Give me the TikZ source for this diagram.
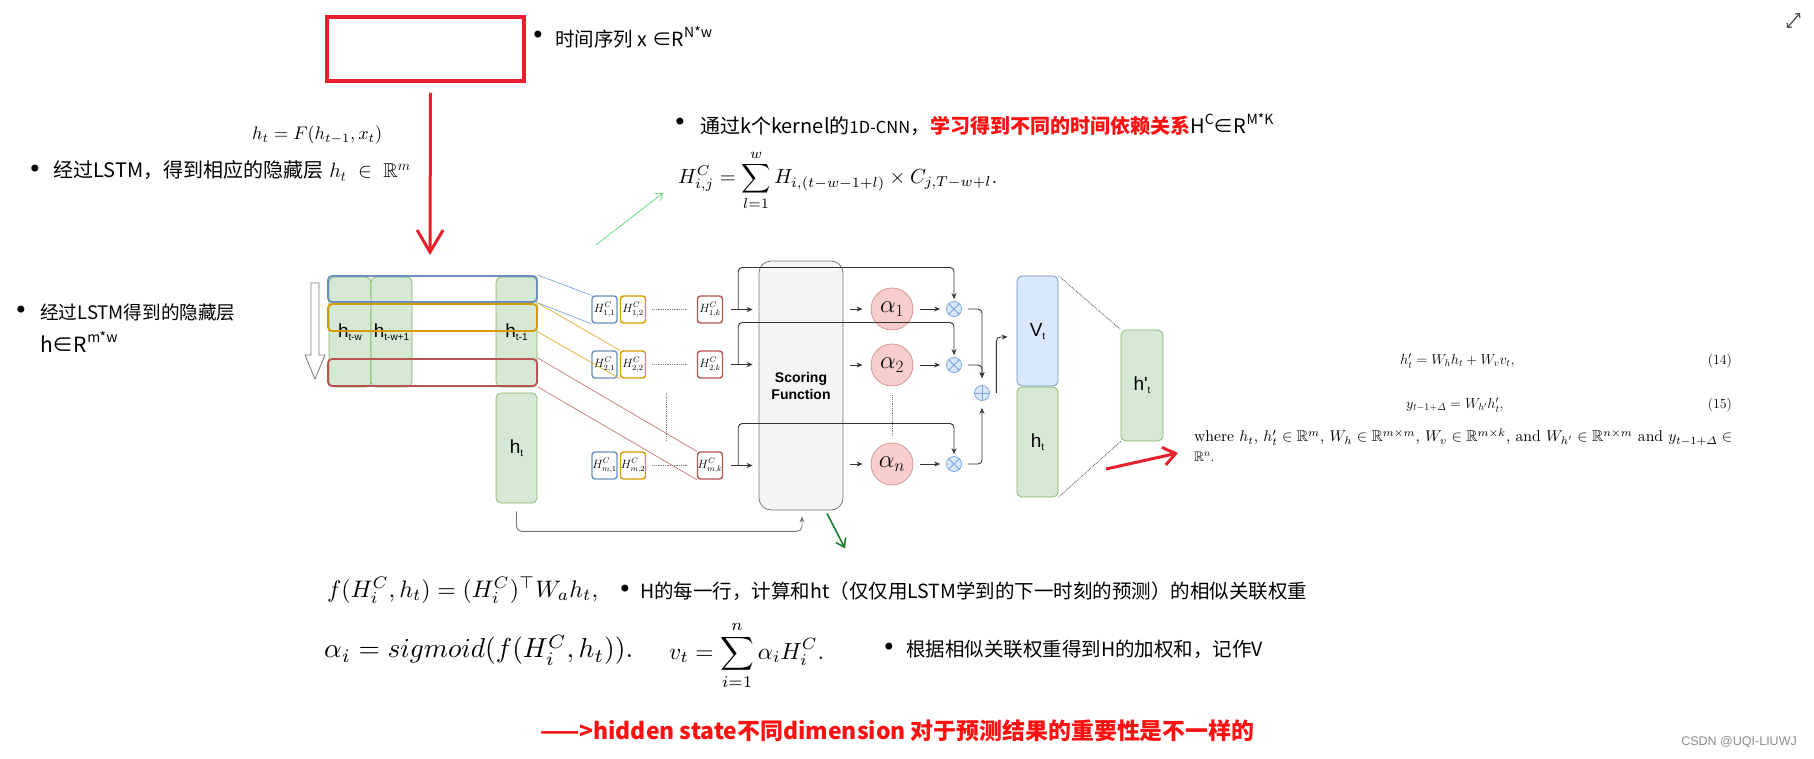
\documentclass[tikz,border=0pt]{standalone}
\usepackage{amsmath,amssymb}
\usepackage[no-math]{fontspec}
\usepackage{graphicx}
\usetikzlibrary{arrows.meta,calc}
\newfontfamily\arial{Liberation Sans}
\newfontfamily\cjk{Noto Sans CJK SC}
\newfontfamily\dvs{DejaVu Sans}
\definecolor{redA}{HTML}{E8202B}
\definecolor{txtRed}{HTML}{FF1010}
\definecolor{bluD}{HTML}{6C8EBF}
\definecolor{bluF}{HTML}{DAE8FC}
\definecolor{bluL}{HTML}{7EA6E0}
\definecolor{grnD}{HTML}{82B366}
\definecolor{grnF}{HTML}{D5E8D4}
\definecolor{orgD}{HTML}{D79B00}
\definecolor{redD}{HTML}{B85450}
\definecolor{redF}{HTML}{F8CECC}
\definecolor{gryF}{HTML}{F5F5F5}
\definecolor{gryD}{HTML}{777777}
\definecolor{grnArrow}{HTML}{1E7B34}
\definecolor{grnLight}{HTML}{66DD88}
\newcommand{\supx}[1]{\raisebox{0.45em}{\fontsize{14}{14}\selectfont #1}}
\newcommand{\lbl}[2]{{\arial\fontsize{19}{19}\selectfont #1\raisebox{-3pt}{\fontsize{10}{10}\selectfont #2}}}
\begin{document}
\begin{tikzpicture}[x=1pt,y=-1pt,
 cjkt/.style={anchor=west, inner sep=0pt, font=\cjk\fontsize{19.5}{24}\selectfont},
 bul/.style={inner sep=0pt, font=\dvs\fontsize{24}{24}\selectfont},
 gcol/.style={draw=grnD, fill=grnF, rounded corners=5pt, minimum width=41pt, minimum height=110pt, inner sep=0pt, line width=0.7pt},
 rowbox/.style={draw=#1, line width=1.8pt, rounded corners=4pt, minimum width=209pt, minimum height=26pt, inner sep=0pt},
 hcb/.style={draw=#1, fill=white, line width=1.4pt, rounded corners=3pt, minimum width=25pt, minimum height=27pt, inner sep=0pt, font=\fontsize{12}{12}\selectfont},
 alph/.style={circle, minimum size=42pt, inner sep=0pt, fill=redF, draw=redD!60, line width=0.8pt, font=\fontsize{23}{23}\selectfont},
 opc/.style={circle, minimum size=15pt, inner sep=0pt, fill=bluF, draw=bluL, line width=0.8pt},
 arr/.style={draw=black!80, line width=0.9pt, -{Stealth[length=6pt,width=5pt]}},
 dotl/.style={draw=gray, densely dotted, line width=0.8pt},
 mathw/.style={anchor=west, inner sep=0pt},
 paper/.style={font=\fontsize{13.8}{16}\selectfont},
]
\useasboundingbox (0,0) rectangle (1814,758);
\fill[white] (0,0) rectangle (1814,758);

% ---------- top annotations ----------
\node[draw=redA, line width=3.5pt, minimum width=197pt, minimum height=64pt, inner sep=0pt] (xbox) at (425.5,49) {};
\node[bul] (d1) at (538,37) {•};
\node[cjkt] (b1) at (555,37) {时间序列 x\hspace{5pt}∈R\supx{N*w}};
\coordinate (rtip) at (430,255);
\draw[redA, line width=3pt, -{Straight Barb[length=22pt,width=26pt]}] ([xshift=5pt,yshift=-10pt]xbox.south) -- (rtip);

\node[mathw] (hF) at (252,135) {\resizebox{130pt}{!}{$h_t = F(h_{t-1}, x_t)$}};
\node[bul] (d2) at (35,171) {•};
\node[cjkt, font=\cjk\fontsize{20}{24}\selectfont] (b2) at (53,171) {经过LSTM，得到相应的隐藏层\hspace{6pt}$h_t\;\in\;\mathbb{R}^m$};

\node[bul] (d3) at (680,124) {•};
\node[cjkt, font=\cjk\fontsize{20}{24}\selectfont] (b3) at (700,124) {通过k个kernel的{\fontsize{16.5}{16}\selectfont 1D-CNN}，{\bfseries\color{txtRed}学习得到不同的时间依赖关系}H\supx{C}∈R\supx{M*K}};
\node[mathw] (fHC) at (678,180) {\resizebox{319pt}{!}{$\displaystyle H^C_{i,j} = \sum_{l=1}^{w} H_{i,(t-w-1+l)} \times C_{j,T-w+l}.$}};
\coordinate (ga0) at (596,245);
\draw[grnLight, line width=0.8pt, -{Straight Barb[length=6pt,width=9pt]}] (ga0) -- ([xshift=-15pt,yshift=-13pt]fHC.west);

\node[bul] (d4) at (21,312) {•};
\node[cjkt, font=\cjk\fontsize{18.6}{24}\selectfont] (b4) at (40,312) {经过LSTM得到的隐藏层};
\node[cjkt, font=\cjk\fontsize{21}{24}\selectfont] (b4b) at (40,342) {h∈R\supx{m*w}};

% ---------- diagram ----------
\draw[gryD, fill=white, line width=0.8pt] (311,283) -- (319,283) -- (319,355) -- (325,355) -- (315,379) -- (305,355) -- (311,355) -- cycle;

\node[gcol, minimum width=42pt] (c1) at (350,332) {\lbl{h}{t-w}};
\node[gcol] (c2) at (391.5,332) {\lbl{h}{t-w+1}};
\node[gcol] (c3) at (516.5,332) {\lbl{h}{t-1}};
\node[gcol] (htL) at (516.5,448) {\lbl{h}{t}};

\node[rowbox=bluD] (rb) at (432.5,289) {};
\node[rowbox=orgD, minimum height=27pt] (ro) at (432.5,317.5) {};
\node[rowbox=redD, minimum height=27pt] (rr) at (432.5,372.5) {};

% H^C boxes
\node[hcb=bluD] (ha1) at (604.5,309.5) {$H^C_{1,1}$};
\node[hcb=orgD] (hb1) at (633,309.5) {$H^C_{1,2}$};
\node[hcb=redD] (hk1) at (710,309.5) {$H^C_{1,k}$};
\node[hcb=bluD] (ha2) at (604.5,364.5) {$H^C_{2,1}$};
\node[hcb=orgD] (hb2) at (633,364.5) {$H^C_{2,2}$};
\node[hcb=redD] (hk2) at (710,364.5) {$H^C_{2,k}$};
\node[hcb=bluD] (ha3) at (604.5,465.5) {$H^C_{m,1}$};
\node[hcb=orgD] (hb3) at (633,465.5) {$H^C_{m,2}$};
\node[hcb=redD] (hk3) at (710,465.5) {$H^C_{m,k}$};
\foreach \r in {1,2,3} {
  \draw[dotl] ($(hb\r.east)+(6,0)$) -- ($(hk\r.west)+(-9,0)$);
}
\draw[dotl] (666,393) -- (666,441);

\draw[bluL, line width=0.7pt] (rb.north east) -- (ha1.north west) (rb.south east) -- (ha1.south west);
\draw[orgD!80, line width=0.7pt] (ro.north east) -- (hb2.north west) (ro.south east) -- (hb2.south west);
\draw[redD!80, line width=0.7pt] (rr.north east) -- (hk3.north west) (rr.south east) -- (hk3.south west);

% scoring function
\node[draw=gryD, fill=gryF, rounded corners=12pt, minimum width=84pt, minimum height=249pt, inner sep=0pt, line width=0.8pt, align=center, font=\arial\bfseries\fontsize{14}{17}\selectfont] (sf) at (801,385.5) {Scoring\\Function};

% alphas and operators
\node[alph] (a1) at (892,309) {$\alpha_1$};
\node[alph] (a2) at (892,365) {$\alpha_2$};
\node[alph] (a3) at (892,464) {$\alpha_n$};
\node[opc] (m1) at (954,309) {};
\node[opc] (m2) at (954,365) {};
\node[opc] (m3) at (954,464) {};
\foreach \r in {1,2,3} {
  \draw[bluL, line width=0.8pt] (m\r.north east) -- (m\r.south west) (m\r.north west) -- (m\r.south east);
}
\node[opc] (pl) at (982,393) {};
\draw[bluL, line width=0.8pt] (pl.north) -- (pl.south) (pl.west) -- (pl.east);
\draw[dotl] ($(a2.south)+(0,9)$) -- ($(a3.north)+(0,-7)$);

\foreach \r in {1,2,3} {
  \draw[arr] ($(hk\r.east)+(8,0)$) -- ($(sf.west |- hk\r.east)+(-6,0)$);
  \draw[arr, rounded corners=4pt, shorten >=2pt] ($(hk\r.east)+(15,0)$) -- ($(hk\r.east)+(15,-42)$) -| (m\r.north);
  \draw[arr] ($(sf.east |- a\r.west)+(7,0)$) -- ($(a\r.west)+(-8,0)$);
  \draw[arr] ($(a\r.east)+(7,0)$) -- ($(m\r.west)+(-6,0)$);
}
\draw[arr, rounded corners=4pt, shorten >=7pt] ($(m1.east)+(6,0)$) -| (pl.north);
\draw[arr, rounded corners=4pt, shorten >=7pt] ($(m2.east)+(6,0)$) -| (pl.north);
\draw[arr, rounded corners=4pt, shorten >=7pt] ($(m3.east)+(6,0)$) -| (pl.south);

% Vt / ht / h't
\node[gcol, draw=bluD, fill=bluF] (Vt) at (1037.5,331) {\lbl{V}{t}};
\node[gcol] (htR) at (1037.5,442) {\lbl{h}{t}};
\node[gcol, minimum width=42pt, minimum height=111pt] (hp) at (1142,385.5) {\lbl{h\textquotesingle}{t}};
\draw[arr, rounded corners=4pt] ($(pl.east)+(6.5,0)$) |- ($(Vt.west)+(-9,6)$);
\draw[dotl, draw=black!70] (Vt.north east) -- (hp.north west);
\draw[dotl, draw=black!70] (htR.south east) -- (hp.south west);

% bottom connector
\draw[gryD, line width=0.9pt, rounded corners=5pt, -{Stealth[length=6pt,width=5pt]}] ($(htL.south)+(0,8)$) -- ($(htL.south)+(0,28)$) -| ($(sf.south)+(1,6)$);
\draw[grnArrow, line width=1.6pt, -{Straight Barb[length=8pt,width=11pt]}] ($(sf.south)+(26,3)$) -- ($(sf.south)+(44,38)$);

% red arrow to paper text
\coordinate (ra0) at (1106,469);
\coordinate (ra1) at (1178,453);
\draw[redA, line width=3pt, -{Straight Barb[length=12pt,width=18pt]}] (ra0) -- (ra1);

% ---------- paper text (right) ----------
\node[mathw, paper] (e14) at (1400,361) {$h'_t = W_h h_t + W_v v_t,$};
\node[anchor=east, inner sep=0pt, paper] (n14) at (1732,361) {(14)};
\node[mathw, paper] (e15) at (1406,405) {$y_{t-1+\varDelta} = W_{h'} h'_t,$};
\node[anchor=east, inner sep=0pt, paper] (n15) at (1732,405) {(15)};
\node[mathw] (wh) at (1194,437) {\resizebox{538pt}{!}{where $h_t$, $h'_t \in \mathbb{R}^m$, $W_h \in \mathbb{R}^{m \times m}$, $W_v \in \mathbb{R}^{m \times k}$, and $W_{h'} \in \mathbb{R}^{n \times m}$ and $y_{t-1+\varDelta} \in$}};
\node[mathw, paper] (rn) at (1194,457) {$\mathbb{R}^n$.};

% ---------- bottom formulas ----------
\node[mathw] (ff) at (327,590) {\resizebox{271pt}{!}{$f(H_i^C, h_t) = (H_i^C)^{\top} W_a h_t,$}};
\node[bul] (d5) at (625,591) {•};
\node[cjkt] (b5) at (640,591) {H的每一行，计算和ht（仅仅用LSTM学到的下一时刻的预测）的相似关联权重};
\node[mathw] (fa) at (324,650) {\resizebox{309pt}{!}{$\alpha_i = sigmoid(f(H_i^C, h_t)).$}};
\node[mathw] (fv) at (669,655) {\resizebox{155pt}{!}{$\displaystyle v_t = \sum_{i=1}^{n} \alpha_i H_i^C.$}};
\node[bul] (d6) at (889,649) {•};
\node[cjkt] (b6) at (906,649) {根据相似关联权重得到H的加权和，记作V};
\node[anchor=west, inner sep=0pt, font=\cjk\bfseries\fontsize{22.9}{26}\selectfont, text=txtRed] (concl) at (540,731) {——>hidden state不同dimension 对于预测结果的重要性是不一样的};

% ---------- chrome ----------
\coordinate (ic0) at (1787,28);
\coordinate (ic1) at (1800,13);
\draw[black!70, line width=1.2pt, {Straight Barb[length=3pt,width=6pt]}-{Straight Barb[length=3pt,width=6pt]}] (ic0) -- (ic1);
\node[anchor=east, inner sep=0pt, font=\arial\fontsize{12.5}{14}\selectfont, text=black!45] (csdn) at (1797,742) {CSDN @UQI-LIUWJ};
\end{tikzpicture}
\end{document}
